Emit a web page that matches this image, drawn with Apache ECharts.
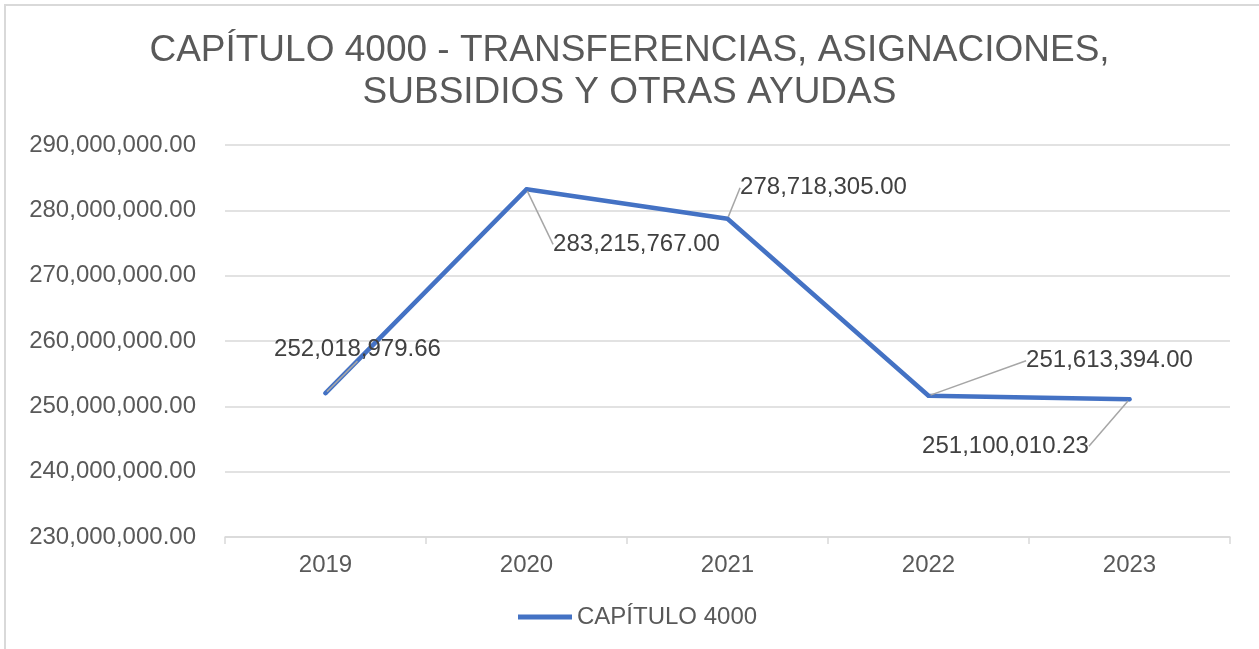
<!DOCTYPE html>
<html lang="es">
<head>
    <meta charset="UTF-8"/>
    <script src="https://cdn.jsdelivr.net/npm/echarts@6/dist/echarts.min.js"></script>
    <title>Capítulo 4000</title>
    <style>
        html, body { margin: 0; padding: 0; background: #fff; }
    </style>
</head>
<body>
<div id="main" style="width: 1259px;height:649px;"></div>
<script type="text/javascript">
    // datos
    var years = ['2019', '2020', '2021', '2022', '2023'];
    var capitulo4000 = [252018979.66, 283215767.00, 278718305.00, 251613394.00, 251100010.23];
    var yTicks = [230000000, 240000000, 250000000, 260000000, 270000000, 280000000, 290000000];

    // desplazamiento de cada etiqueta respecto a su punto (px)
    var labelOffsets = [[32, -44], [110, 55], [96, -31], [181, -35], [-124, 47]];

    function fmt(v) {
        return Number(v).toLocaleString('en-US', {minimumFractionDigits: 2, maximumFractionDigits: 2});
    }

    var font = '"Liberation Sans", Arial, sans-serif';
    var myChart = echarts.init(document.getElementById('main'));

    var option = {
        backgroundColor: '#fff',
        textStyle: { fontFamily: font },
        graphic: [{
            type: 'rect',
            shape: { x: 5, y: 5, width: 1400, height: 800 },
            style: { fill: 'none', stroke: '#d9d9d9', lineWidth: 2 },
            silent: true
        }],
        title: {
            text: 'CAPÍTULO 4000 - TRANSFERENCIAS, ASIGNACIONES,\nSUBSIDIOS Y OTRAS AYUDAS',
            left: 'center',
            top: 30,
            padding: 0,
            textStyle: {
                fontFamily: font,
                fontSize: 37,
                fontWeight: 'normal',
                color: '#595959',
                lineHeight: 42
            }
        },
        legend: {
            bottom: 20,
            left: 518,
            padding: 0,
            icon: 'rect',
            itemWidth: 54,
            itemHeight: 5,
            textStyle: { fontFamily: font, fontSize: 24, color: '#595959' },
            data: ['CAPÍTULO 4000']
        },
        grid: { left: 225, right: 29, top: 145, bottom: 112, containLabel: false },
        xAxis: {
            type: 'category',
            data: years,
            boundaryGap: true,
            axisLine: { lineStyle: { color: '#d9d9d9', width: 1.5 } },
            axisTick: { show: true, length: 7, lineStyle: { color: '#d9d9d9', width: 1.5 } },
            axisLabel: { fontFamily: font, fontSize: 24, color: '#595959', margin: 16 }
        },
        yAxis: {
            type: 'value',
            min: yTicks[0],
            max: yTicks[yTicks.length - 1],
            interval: yTicks[1] - yTicks[0],
            axisLine: { show: false },
            axisTick: { show: false },
            splitLine: { lineStyle: { color: '#d9d9d9', width: 1.5 } },
            axisLabel: {
                fontFamily: font, fontSize: 24, color: '#595959', margin: 29,
                formatter: function (v) { return fmt(v); }
            }
        },
        series: [{
            name: 'CAPÍTULO 4000',
            type: 'line',
            data: capitulo4000,
            showSymbol: true,
            symbol: 'circle',
            symbolSize: 4,
            itemStyle: { color: '#4472C4' },
            lineStyle: { color: '#4472C4', width: 4.5, cap: 'round', join: 'round' },
            label: {
                show: true,
                position: 'inside',
                fontFamily: font,
                fontSize: 24,
                color: '#404040',
                formatter: function (p) { return fmt(p.value); }
            },
            labelLine: {
                show: true,
                lineStyle: { color: '#a6a6a6', width: 1.5 }
            },
            labelLayout: function (params) {
                var o = labelOffsets[params.dataIndex];
                return { dx: o[0], dy: o[1] };
            }
        }]
    };

    myChart.setOption(option);
</script>
</body>
</html>
